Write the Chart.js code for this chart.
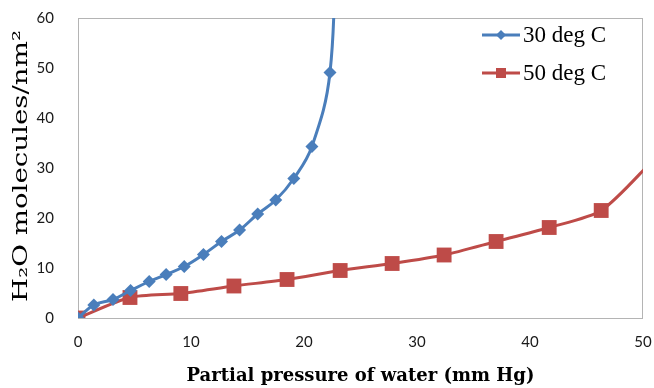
<!DOCTYPE html>
<html>
<head>
<meta charset="utf-8">
<script src="https://cdn.jsdelivr.net/npm/chart.js@4/dist/chart.umd.min.js"></script>
<style>
    html, body { margin: 0; padding: 0; background: #fff; }
    #wrap { width: 654px; height: 388px; }
</style>
</head>
<body>
<div id="wrap"><canvas id="isoChart" width="654" height="388"></canvas></div>
<script>
// Adsorption isotherm data
var seriesNames = ['30 deg C', '50 deg C'];

var p30 = [0, 1.4, 3.1, 4.65, 6.3, 7.8, 9.4, 11.1, 12.7, 14.3, 15.9, 17.5, 19.1, 20.7, 22.3, 22.8];
var n30 = [0, 2.6, 3.7, 5.5, 7.3, 8.7, 10.3, 12.7, 15.3, 17.6, 20.8, 23.6, 27.9, 34.3, 49.1, 78];

var p50 = [0, 4.6, 9.1, 13.8, 18.5, 23.2, 27.8, 32.4, 37.0, 41.7, 46.3, 51];
var n50 = [0, 4.1, 4.9, 6.4, 7.7, 9.5, 10.9, 12.6, 15.3, 18.1, 21.5, 31.8];

var xTicks = [0, 10, 20, 30, 40, 50];
var yTicks = [0, 10, 20, 30, 40, 50, 60];

var xTitle = 'Partial pressure of water (mm Hg)';
var yTitle = 'H\u2082O molecules/nm\u00b2';

var blue = '#4a7ebb';
var red = '#be4b48';

function toPoints(xs, ys) {
    return xs.map(function (x, i) { return { x: x, y: ys[i] }; });
}

// last point of each series sits outside the axes, only there to carry the line off the plot
function radii(len, r) {
    return Array.from({ length: len }, function (_, i) { return i === len - 1 ? 0 : r; });
}

// fixed axis box sizes, and no extra label overhang padding
function fixBox(size, horizontal) {
    return function (scale) {
        if (horizontal) scale.height = size; else scale.width = size;
        scale.paddingLeft = scale.paddingRight = 0;
        scale.paddingTop = scale.paddingBottom = 0;
    };
}

(function () {
    var canvas = document.getElementById('isoChart');
    var ctx = canvas.getContext('2d');

    var frame = {
        id: 'plotFrame',
        beforeDatasetsDraw: function (chart) {
            var a = chart.chartArea;
            var c = chart.ctx;
            c.save();
            c.strokeStyle = '#b4b4b4';
            c.lineWidth = 1;
            c.strokeRect(Math.round(a.left) + 0.5, Math.round(a.top) + 0.5,
                Math.round(a.right - a.left) - 1, Math.round(a.bottom - a.top));
            c.restore();
        }
    };

    var legendBox = {
        id: 'legendBox',
        afterDraw: function (chart) {
            var c = chart.ctx;
            c.save();
            chart.data.datasets.forEach(function (ds, i) {
                var y = 35 + i * 38;
                c.strokeStyle = ds.borderColor;
                c.lineWidth = 3;
                c.beginPath();
                c.moveTo(482, y);
                c.lineTo(520, y);
                c.stroke();
                c.fillStyle = ds.backgroundColor;
                if (ds.pointStyle === 'rectRot') {
                    c.beginPath();
                    c.moveTo(501, y - 5);
                    c.lineTo(506, y);
                    c.lineTo(501, y + 5);
                    c.lineTo(496, y);
                    c.closePath();
                    c.fill();
                } else {
                    c.fillRect(496, y - 5, 10, 10);
                }
                c.fillStyle = '#000';
                c.font = '23px "Liberation Serif", serif';
                c.textBaseline = 'middle';
                c.textAlign = 'left';
                c.fillText(ds.label, 523, y + 1);
            });
            c.restore();
        }
    };

    var yTitlePlugin = {
        id: 'yTitle',
        afterDraw: function (chart) {
            var c = chart.ctx;
            var mid = (chart.chartArea.top + chart.chartArea.bottom) / 2 - 2;
            c.save();
            c.translate(22, mid);
            c.rotate(-Math.PI / 2);
            c.font = '21px "DejaVu Serif", serif';
            var w = c.measureText(yTitle).width;
            c.scale(272 / w, 1);
            c.fillStyle = '#000';
            c.textAlign = 'center';
            c.textBaseline = 'middle';
            c.fillText(yTitle, 0, 0);
            c.restore();
        }
    };

    new Chart(ctx, {
        type: 'line',
        data: {
            datasets: [{
                label: seriesNames[0],
                data: toPoints(p30, n30),
                borderColor: blue,
                backgroundColor: blue,
                borderWidth: 3,
                tension: 0.4,
                pointStyle: 'rectRot',
                pointRadius: radii(p30.length, 6.5),
                pointBorderWidth: 0
            }, {
                label: seriesNames[1],
                data: toPoints(p50, n50),
                borderColor: red,
                backgroundColor: red,
                borderWidth: 3,
                tension: 0.25,
                pointStyle: 'rect',
                pointRadius: radii(p50.length, 10.5),
                pointBorderWidth: 0
            }]
        },
        options: {
            responsive: false,
            animation: false,
            layout: { padding: { top: 18, right: 11, left: 0, bottom: 0 } },
            plugins: {
                legend: { display: false },
                tooltip: { enabled: false }
            },
            scales: {
                x: {
                    type: 'linear',
                    min: 0,
                    max: 50,
                    afterFit: fixBox(70, true),
                    afterBuildTicks: function (axis) {
                        axis.ticks = xTicks.map(function (v) { return { value: v }; });
                    },
                    grid: { display: false, drawTicks: false },
                    border: { display: false },
                    ticks: {
                        color: '#1a1a1a',
                        padding: 15,
                        maxRotation: 0,
                        font: { size: 15, family: 'Lato, sans-serif' }
                    },
                    title: {
                        display: true,
                        text: xTitle,
                        color: '#000',
                        padding: { top: 0, bottom: 1 },
                        font: { size: 18, weight: 'bold', family: '"DejaVu Serif", serif' }
                    }
                },
                y: {
                    min: 0,
                    max: 60,
                    afterFit: fixBox(78, false),
                    afterBuildTicks: function (axis) {
                        axis.ticks = yTicks.map(function (v) { return { value: v }; });
                    },
                    grid: { display: false, drawTicks: false },
                    border: { display: false },
                    ticks: {
                        color: '#1a1a1a',
                        padding: 24,
                        font: { size: 15, family: 'Lato, sans-serif' }
                    }
                }
            }
        },
        plugins: [frame, legendBox, yTitlePlugin]
    });
})();
</script>
</body>
</html>
